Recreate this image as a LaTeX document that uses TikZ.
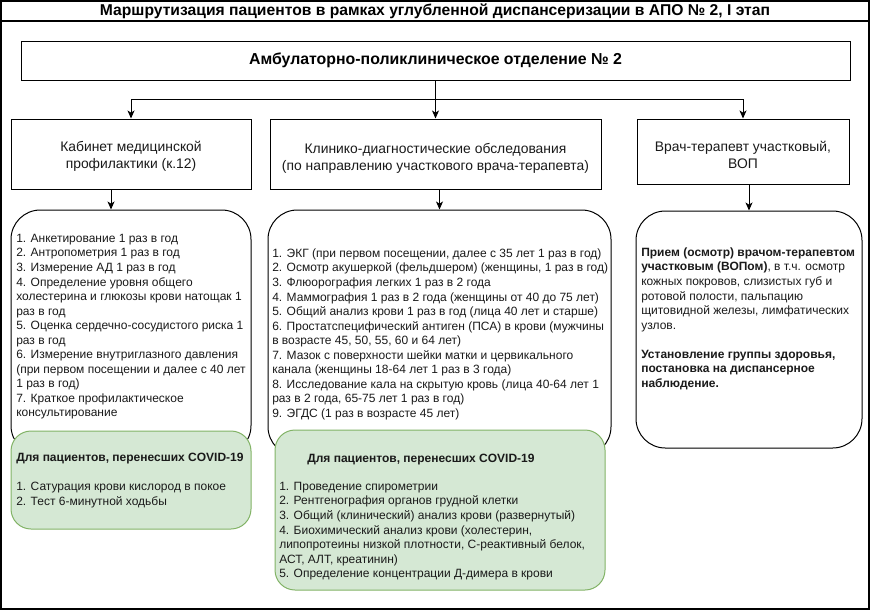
\documentclass[tikz,border=0pt]{standalone}
\usepackage{fontspec}
\setmainfont{Liberation Sans}
\usetikzlibrary{arrows.meta,fit}
\definecolor{gfill}{HTML}{D5E8D4}
\definecolor{gline}{HTML}{82B366}
\definecolor{txt}{HTML}{1A1A1A}
\begin{document}
\begin{tikzpicture}[x=0.75pt,y=-0.75pt,
  box/.style={draw=black,line width=0.75pt,inner sep=0pt,fill=white},
  wbox/.style={box,rounded corners=22pt},
  gbox/.style={draw=gline,fill=gfill,line width=0.75pt,inner sep=0pt,rounded corners=15pt},
  arr/.style={line width=0.75pt,-{Stealth[length=6pt,width=5.2pt,inset=1.6pt]}},
  head/.style={font=\fontsize{10.4}{12.9}\selectfont,align=center,text=txt,inner sep=0pt},
  list/.style={font=\fontsize{9}{10.9}\selectfont,align=left,anchor=north west,inner sep=0pt,text=txt},
]
\useasboundingbox (0,0) rectangle (871,611);
% frame
\node[draw=black,line width=1.1pt,inner sep=0pt,fit={(1,1)(869,609)}] (frame) {};
\draw[line width=1.1pt] (frame.west |- 0,21) coordinate (tl) -- (frame.east |- 0,21) coordinate (tr);
\node[font=\bfseries\fontsize{11.75}{13}\selectfont,text=black] (title) at (435,11) {Маршрутизация пациентов в рамках углубленной диспансеризации в АПО № 2, I этап};
% main
\node[box,fit={(21,41)(850,80)}] (main) {};
\node[font=\bfseries\fontsize{11.9}{13}\selectfont,text=black] (maintext) at (435.5,60.5) {Амбулаторно-поликлиническое отделение № 2};
% second row
\node[box,fit={(11,119)(251,189)}] (b1) {};
\node[box,fit={(270,119)(601,189)}] (b2) {};
\node[box,fit={(637,119)(849,184)}] (b3) {};
\node[head] (h1) at (131,156) {Кабинет медицинской\\профилактики (к.12)};
\node[head] (h2) at (435.5,158) {Клинико-диагностические обследования\\(по направлению участкового врача-терапевта)};
\node[head] (h3) at (743,155) {Врач-терапевт участковый,\\ВОП};
\coordinate (j) at (main.south |- 0,99);
\draw[line width=0.75pt] (main.south) -- (j);
\draw[arr] (j) -| (b1.north);
\draw[arr] (j) -- (b2.north);
\draw[arr] (j) -| (b3.north);
% white boxes
\node[wbox,fit={(11,210)(251,455)}] (r1) {};
\node[wbox,fit={(268,210)(611,456)}] (r2) {};
\node[wbox,fit={(636,211)(862,448)}] (r3) {};
\draw[arr] ([xshift=-15pt]b1.south) -- ([xshift=-15pt]r1.north);
\draw[arr] (b2.south -| r2.north) -- (r2.north);
\draw[arr] (b3.south -| r3.north) -- (r3.north);
% green boxes
\node[gbox,fit={(11,431)(251,529)}] (g1) {};
\node[gbox,fit={(275,430)(605,590)}] (g2) {};
% texts
\node[list] (t1) at (16,232) {\strut 1. Анкетирование 1 раз в год\\
2. Антропометрия 1 раз в год\\
3. Измерение АД 1 раз в год\\
4. Определение уровня общего\\
холестерина и глюкозы крови натощак 1\\
раз в год\\
5. Оценка сердечно-сосудистого риска 1\\
раз в год\\
6. Измерение внутриглазного давления\\
(при первом посещении и далее с 40 лет\\
1 раз в год)\\
7. Краткое профилактическое\\
консультирование};
\node[list] (t2) at (272,247) {\strut 1. ЭКГ (при первом посещении, далее с 35 лет 1 раз в год)\\
2. Осмотр акушеркой (фельдшером) (женщины, 1 раз в год)\\
3. Флюорография легких 1 раз в 2 года\\
4. Маммография 1 раз в 2 года (женщины от 40 до 75 лет)\\
5. Общий анализ крови 1 раз в год (лица 40 лет и старше)\\
6. Простатспецифический антиген (ПСА) в крови (мужчины\\
в возрасте 45, 50, 55, 60 и 64 лет)\\
7. Мазок с поверхности шейки матки и цервикального\\
канала (женщины 18-64 лет 1 раз в 3 года)\\
8. Исследование кала на скрытую кровь (лица 40-64 лет 1\\
раз в 2 года, 65-75 лет 1 раз в год)\\
9. ЭГДС (1 раз в возрасте 45 лет)};
\node[list] (t3) at (641,246) {\strut\textbf{Прием (осмотр) врачом-терапевтом}\\
\textbf{участковым (ВОПом)}, в т.ч. осмотр\\
кожных покровов, слизистых губ и\\
ротовой полости, пальпацию\\
щитовидной железы, лимфатических\\
узлов.\\
\strut\\
\textbf{Установление группы здоровья,}\\
\textbf{постановка на диспансерное}\\
\textbf{наблюдение.}};
\node[list] (tg1) at (16,451) {\strut\textbf{Для пациентов, перенесших COVID-19}\\
\strut\\
1. Сатурация крови кислород в покое\\
2. Тест 6-минутной ходьбы};
\node[list] (gh2) at (307,452) {\strut\textbf{Для пациентов, перенесших COVID-19}};
\node[list] (tg2) at (279,480) {\strut 1. Проведение спирометрии\\
2. Рентгенография органов грудной клетки\\
3. Общий (клинический) анализ крови (развернутый)\\
4. Биохимический анализ крови (холестерин,\\
липопротеины низкой плотности, С-реактивный белок,\\
АСТ, АЛТ, креатинин)\\
5. Определение концентрации Д-димера в крови};
\end{tikzpicture}
\end{document}
